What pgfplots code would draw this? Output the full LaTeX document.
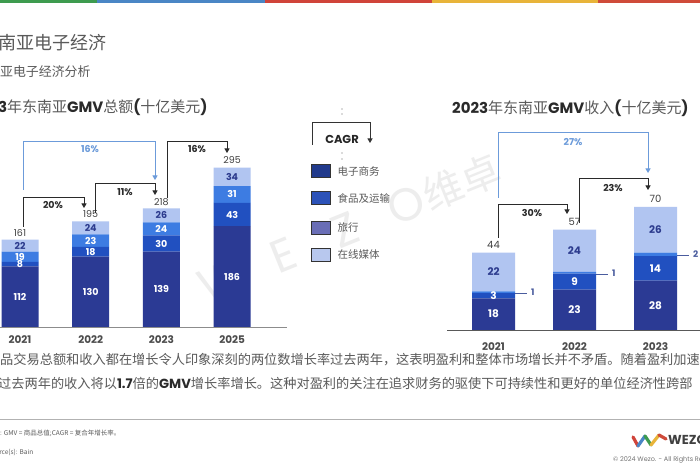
\documentclass[border=0pt]{standalone}
\usepackage{fontspec}
\setmainfont{Noto Sans CJK SC}
\newfontfamily\pop{Poppins}
\usepackage{pgfplots}
\pgfplotsset{compat=1.18}
\usepackage{pgfplotstable}
\usetikzlibrary{arrows.meta}

\newcommand{\F}[1]{\fontsize{#1}{#1}\selectfont}

\definecolor{cEC}{HTML}{2B3A94}
\definecolor{cFT}{HTML}{2150C0}
\definecolor{cTR}{HTML}{3D7CE2}
\definecolor{cOM}{HTML}{B1C5F1}
\definecolor{lgEC}{HTML}{213A8C}
\definecolor{lgFT}{HTML}{2C52B8}
\definecolor{lgTR}{HTML}{6A6EB6}
\definecolor{lgOM}{HTML}{B8C8EE}
\definecolor{txt}{HTML}{5A5A5A}
\definecolor{dark}{HTML}{2A2A2A}
\definecolor{arrowblue}{HTML}{6C9BDA}
\definecolor{navytxt}{HTML}{2D3C8E}
\definecolor{sideblue}{HTML}{4A5C9E}
\definecolor{stG}{HTML}{3E9B4F}
\definecolor{stB}{HTML}{4A86C5}
\definecolor{stR}{HTML}{D0443A}
\definecolor{stY}{HTML}{E8B43A}
\definecolor{stO}{HTML}{CF4B3A}

\pgfplotstableread{
x ec ft tr om tot
0 112 8 19 22 161
1 130 18 23 24 195
2 139 30 24 26 218
3 186 43 31 34 295
}\leftdata
\pgfplotstableread{
x ec ft tr om tot
0 18 3 1 22 44
1 23 9 1 24 57
2 28 14 2 26 70
}\rightdata

\pgfplotsset{
  segL/.style={nodes near coords, point meta=explicit symbolic,
    every node near coord/.append style={anchor=center, font=\pop\bfseries\F{9.5}}},
  segR/.style={nodes near coords, point meta=explicit symbolic,
    every node near coord/.append style={anchor=center, font=\pop\bfseries\F{10.5}}},
  leftgeom/.style={at={(0pt,0pt)}, anchor=south west,
    scale only axis, width=262.7pt, height=162.6pt,
    xmin=-0.283, xmax=3.433, ymin=0, ymax=300, clip=false},
  rightgeom/.style={at={(0pt,0pt)}, anchor=south west,
    scale only axis, width=257.1pt, height=140.8pt,
    xmin=-0.574, xmax=2.6, ymin=0, ymax=80, clip=false},
}

\begin{document}
\begin{tikzpicture}[x=1pt,y=1pt]
\useasboundingbox (0,0) rectangle (700,470);
\fill[white] (0,0) rectangle (700,470);
\clip (0,0) rectangle (700,470);

% top stripe
\fill[stG] (0,467) rectangle (97,470);
\fill[stB] (97,467) rectangle (265,470);
\fill[stR] (265,467) rectangle (432,470);
\fill[stY] (432,467) rectangle (598,470);
\fill[stO] (598,467) rectangle (700,470);

% watermark
\begin{scope}[black!7]
\foreach \c/\d in {W/0,E/67,Z/134,O/200}
  \node[rotate=22, font=\pop\F{46}] at ({221+\d*0.927},{190+\d*0.375}) {\c};
\node[rotate=22, font=\F{40}] at ({221+240*0.927},{190+240*0.375}) {维};
\node[rotate=22, font=\F{40}] at ({221+280*0.927},{190+280*0.375}) {卓};
\end{scope}

% page titles
\node[anchor=west, inner sep=0, text=txt] at (-20,427) {\F{18}东南亚电子经济};
\node[anchor=west, inner sep=0, text=txt] at (-25.8,398) {\F{12.9}东南亚电子经济分析};
\node[anchor=west, inner sep=0, text=txt] at (-29,363) {\F{15}{\pop\bfseries\color{dark}2023}年东南亚{\pop\bfseries\color{dark}GMV}总额{\pop\bfseries\color{dark}(}十亿美元{\pop\bfseries\color{dark})}};
\node[anchor=west, inner sep=0, text=txt] at (452,362) {\F{15}{\pop\bfseries\color{dark}2023}年东南亚{\pop\bfseries\color{dark}GMV}收入{\pop\bfseries\color{dark}(}十亿美元{\pop\bfseries\color{dark})}};

% ---------- left chart ----------
\begin{scope}[shift={(0pt,143pt)}]
\begin{axis}[leftgeom,
  ybar stacked, bar width=37pt,
  axis y line=none, axis x line*=bottom,
  x axis line style={draw=black!45, line width=0.8pt, shorten >=-24pt},
  xtick={0,1,2,3}, xticklabels={2021,2022,2023,2025},
  major tick length=0pt,
  xticklabel style={font=\pop\bfseries\F{10.5}, text=black!70, yshift=-5pt},
]
\addplot[fill=cEC, draw=none, segL, every node near coord/.append style={text=white}]
  table[x=x,y=ec,meta=ec]{\leftdata};
\addplot[fill=cFT, draw=none, segL, every node near coord/.append style={text=white}]
  table[x=x,y=ft,meta=ft]{\leftdata};
\addplot[fill=cTR, draw=none, segL, every node near coord/.append style={text=white}]
  table[x=x,y=tr,meta=tr]{\leftdata};
\addplot[fill=cOM, draw=none, segL, every node near coord/.append style={text=navytxt}]
  table[x=x,y=om,meta=om]{\leftdata};
\end{axis}
\begin{axis}[leftgeom, hide axis]
\addplot[draw=none, mark=none, nodes near coords, point meta=explicit symbolic,
  every node near coord/.append style={anchor=south, text=black!75, font=\pop\F{9.5}}]
  table[x=x,y=tot,meta=tot]{\leftdata};
\end{axis}
\end{scope}

% ---------- right chart ----------
\begin{scope}[shift={(447pt,140pt)}]
\begin{axis}[rightgeom,
  ybar stacked, bar width=43pt,
  axis y line=none, axis x line*=bottom,
  x axis line style={draw=black!65, line width=0.8pt},
  xtick={0,1,2}, xticklabels={2021,2022,2023},
  major tick length=0pt,
  xticklabel style={font=\pop\bfseries\F{10.5}, text=black!70, yshift=-9pt},
]
\addplot[fill=cEC, draw=none, segR, every node near coord/.append style={text=white}]
  table[x=x,y=ec,meta=ec]{\rightdata};
\addplot[fill=cFT, draw=none, segR, every node near coord/.append style={text=white}]
  table[x=x,y=ft,meta=ft]{\rightdata};
\addplot[fill=cTR, draw=none, nodes near coords={\rule[0.3ex]{12pt}{0.7pt}\hspace{4pt}\pgfplotspointmeta}, point meta=explicit symbolic,
  every node near coord/.append style={anchor=west, inner sep=0pt, xshift=21.5pt, text=sideblue, font=\pop\bfseries\F{9}}]
  table[x=x,y=tr,meta=tr]{\rightdata};
\addplot[fill=cOM, draw=none, segR, every node near coord/.append style={text=navytxt}]
  table[x=x,y=om,meta=om]{\rightdata};
\end{axis}
\begin{axis}[rightgeom, hide axis]
\addplot[draw=none, mark=none, nodes near coords, point meta=explicit symbolic,
  every node near coord/.append style={anchor=south, yshift=1pt, text=black!75, font=\pop\F{10}}]
  table[x=x,y=tot,meta=tot]{\rightdata};
\end{axis}
\end{scope}

% ---------- CAGR arrows, left ----------
\tikzset{arr/.style={line width=1pt, -{Triangle[width=5pt,length=4.5pt]}}}
\draw[arr, arrowblue] (23,280) |- (155,328) -- (155,290);
\node[text=arrowblue, font=\pop\bfseries\F{9.5}] at (90,321) {16\%};
\draw[arr, dark] (23,243) |- (84,272) -- (84,262);
\node[text=dark, font=\pop\bfseries\F{9.5}] at (53,265) {20\%};
\draw[arr, dark] (95,257) |- (155,286) -- (155,275);
\node[text=dark, font=\pop\bfseries\F{9.5}] at (125,278) {11\%};
\draw[arr, dark] (167,272) |- (227,328) -- (227,317);
\node[text=dark, font=\pop\bfseries\F{9.5}] at (197,321) {16\%};

% ---------- CAGR arrows, right ----------
\draw[arr, arrowblue] (498,272) |- (648,337) -- (648,297);
\node[text=arrowblue, font=\pop\bfseries\F{9.5}] at (573,328) {27\%};
\draw[arr, dark] (498,232) |- (567,265) -- (567,256);
\node[text=dark, font=\pop\bfseries\F{9.5}] at (532,257) {30\%};
\draw[arr, dark] (579,247) |- (648,291) -- (648,280);
\node[text=dark, font=\pop\bfseries\F{9.5}] at (613,282) {23\%};

% ---------- legend ----------
\fill[black!60] (342,361) circle (0.7) (342,356) circle (0.7) (342,317) circle (0.7) (342,311) circle (0.7);
\draw[arr, black!80] (312,325) |- (370,347) -- (370,327);
\node[text=black!85, font=\pop\bfseries\F{11.5}] at (342,331) {CAGR};
\foreach \yy/\cc/\tt in {299/lgEC/电子商务, 272/lgFT/食品及运输, 242/lgTR/旅行, 215/lgOM/在线媒体}{
  \filldraw[fill=\cc, draw=black!80, line width=0.7pt] (311,\yy-6.5) rectangle (330,\yy+6.5);
  \node[anchor=west, text=txt, font=\F{10.5}] at (334,\yy) {\tt};
}

% ---------- body text ----------
\node[anchor=west, inner sep=0, text=txt] at (0,110) {\F{13.2}品交易总额和收入都在增长令人印象深刻的两位数增长率过去两年，这表明盈利和整体市场增长并不矛盾。随着盈利加速};
\node[anchor=west, inner sep=0, text=txt] at (-2,87) {\F{13.2}过去两年的收入将以{\pop\bfseries\color{dark}1.7}倍的{\pop\bfseries\color{dark}GMV}增长率增长。这种对盈利的关注在追求财务的驱使下可持续性和更好的单位经济性跨部};

% separator and footer
\draw[black!30, line width=0.8pt] (0,51) -- (700,51);
\node[anchor=west, inner sep=0, text=txt] at (-6.5,37) {\F{6.5}注: GMV = 商品总值;CAGR = 复合年增长率。};
\node[anchor=west, inner sep=0, text=txt] at (-12.7,18) {\F{6.5}Source(s): Bain};

% logo
\begin{scope}[line width=3.2pt, line cap=round]
\draw[stR] (633,33) -- (638,24);
\draw[stB] (638,24) -- (645,34);
\draw[stG] (645,34) -- (651,25);
\draw[stY] (651,25) -- (659,35);
\draw[stO] (659,35) -- (666,31);
\end{scope}
\node[anchor=west, inner sep=0, text=black!75, font=\pop\bfseries\F{13}] at (668,30) {WEZO};
\node[anchor=west, inner sep=0, text=black!55, font=\pop\F{6.5}] at (613,10) {© 2024 Wezo. - All Rights Reserved};
\end{tikzpicture}
\end{document}
